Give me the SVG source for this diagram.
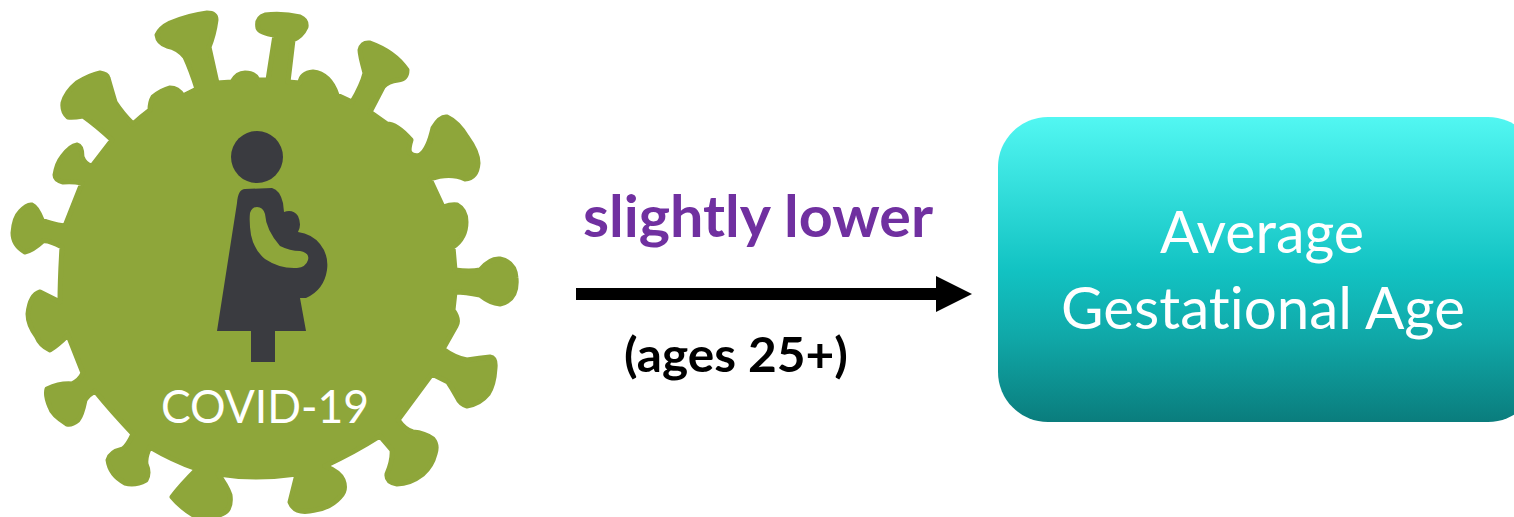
<svg xmlns="http://www.w3.org/2000/svg" width="1514" height="517" viewBox="0 0 1514 517">
<style>
text{font-family:Lato,"Open Sans",sans-serif;text-anchor:start;font-variant-ligatures:none}
.w{fill:#fff}
.b{font-weight:700}
</style>
<defs>
<linearGradient id="teal" x1="0" y1="0" x2="0" y2="1">
<stop offset="0" stop-color="#52F7F2"/>
<stop offset="0.5" stop-color="#12C3C3"/>
<stop offset="0.72" stop-color="#10A8A8"/>
<stop offset="1" stop-color="#0A7D7D"/>
</linearGradient>
</defs>
<rect width="1514" height="517" fill="#fff"/>
<g id="covid-node">
<path fill="#8EA63A" stroke="#8EA63A" stroke-width="5" stroke-linejoin="round" d="M62 247 Q48 240 43 241 Q32 251 25 252 Q13 245 13 233 Q14 218 20 212 Q27 204 32 205 Q37 207 42 220 Q50 224 65 226 L82 183 Q72 181 63 182 Q55 180 55 175 Q57 163 62 157 Q70 146 77 145 Q82 146 82 157 Q85 165 92 166 L112 140 Q97 126 83 116 Q72 118 68 117 Q62 112 63 103 Q66 92 77 83 Q90 75 100 73 Q107 74 108 78 Q112 92 115 102 Q122 113 133 124 Q142 116 150 110 Q150 102 153 97 Q162 90 170 88 Q178 88 183 96 L197 89 Q191 70 185 57 Q178 48 167 46 Q158 43 157 35 Q160 28 170 23 Q190 15 207 13 Q216 13 216 20 Q214 35 209 47 L217 83 L232 82 Q237 73 245 73 Q255 73 258 80 L268 80 L275 35 Q260 33 258 28 Q256 18 265 15 Q283 13 300 17 Q307 20 306 27 Q302 36 293 40 L288 82 L300 83 Q301 73 313 72 Q330 74 337 95 L352 102 Q362 85 365 73 Q360 55 360 50 Q362 42 370 43 Q395 52 407 70 Q407 79 398 80 Q388 81 383 87 L370 112 L387 124 Q397 124 411 140 Q408 150 410 153 Q414 157 420 155 Q428 150 433 128 Q440 116 447 117 Q458 122 467 137 Q478 152 478 163 Q477 178 465 179 Q450 172 430 179 L443 207 Q452 204 457 205 Q466 210 466 222 Q466 238 453 247 L455 270 Q470 272 480 270 Q490 258 500 259 Q515 262 516 278 Q518 300 500 304 Q490 303 480 295 Q465 292 455 292 L453 310 Q460 320 456 326 L443 349 Q455 358 467 360 Q480 358 490 357 Q496 358 495 368 Q494 385 488 394 Q480 404 467 406 Q460 404 457 397 Q452 388 448 382 L432 374 L398 420 Q405 430 413 432 Q425 433 433 439 Q438 445 435 454 Q432 466 423 474 Q410 484 397 484 Q386 482 387 474 Q393 460 392 450 L380 436 Q355 452 325 466 Q340 472 343 480 Q347 490 340 497 Q330 508 315 510 Q295 515 290 502 L297 474 Q255 480 218 474 Q227 486 230 495 Q232 510 222 514 Q210 519 195 516 Q180 507 172 497 Q180 486 197 469 Q172 460 150 447 Q145 457 146 464 Q150 473 146 480 Q135 486 125 483 Q110 475 108 460 Q110 452 123 449 Q128 445 133 434 Q112 412 95 391 Q88 395 85 400 Q82 415 78 420 Q72 425 67 424 Q52 415 50 407 Q45 395 47 389 Q60 383 72 384 Q80 380 83 373 L68 335 Q58 345 50 350 Q40 345 37 337 Q28 325 28 314 Q30 295 40 292 L60 302 Q60 280 62 247 Z"/>
<circle cx="257" cy="157" r="26" fill="#3A3B40"/>
<path fill="#3A3B40" fill-rule="evenodd" d="M237 203 Q238 189 245 189 L272 188 Q280 190 283 203 L284 212 Q293 209 298 216 Q302 225 298 232 Q312 234 320 244 Q329 255 327 270 Q324 290 306 298 L300 298 L306 331 L275 331 L275 362 L251 362 L251 331 L217 331 Z M250 213 Q252 207 257 207 Q263 207 265 214 Q266 230 280 246 Q290 251 300 251 Q310 253 308 260 Q306 267 297 268 Q280 269 265 259 Q254 250 251 235 Q249 222 250 213 Z"/>
<text class="w" x="161" y="423" font-size="47" textLength="208" lengthAdjust="spacingAndGlyphs">COVID-19</text>
</g>
<g id="connectors">
<rect x="576" y="288" width="361" height="12" fill="#000"/>
<path d="M936 276 L972 294 L936 312 Z" fill="#000"/>
</g>
<g id="labels">
<text class="b" x="583" y="237" font-size="58" fill="#7030A0" textLength="350" lengthAdjust="spacingAndGlyphs">slightly lower</text>
<text class="b" x="624" y="372" font-size="48" fill="#000" textLength="224" lengthAdjust="spacingAndGlyphs">(ages 25+)</text>
</g>
<g id="outcome-node">
<rect x="998" y="117" width="540" height="305" rx="50" ry="50" fill="url(#teal)"/>
<text class="w" x="1160" y="253" font-size="58" textLength="204" lengthAdjust="spacingAndGlyphs">Average</text>
<text class="w" x="1061" y="329" font-size="58" textLength="404" lengthAdjust="spacingAndGlyphs">Gestational Age</text>
</g>
</svg>
